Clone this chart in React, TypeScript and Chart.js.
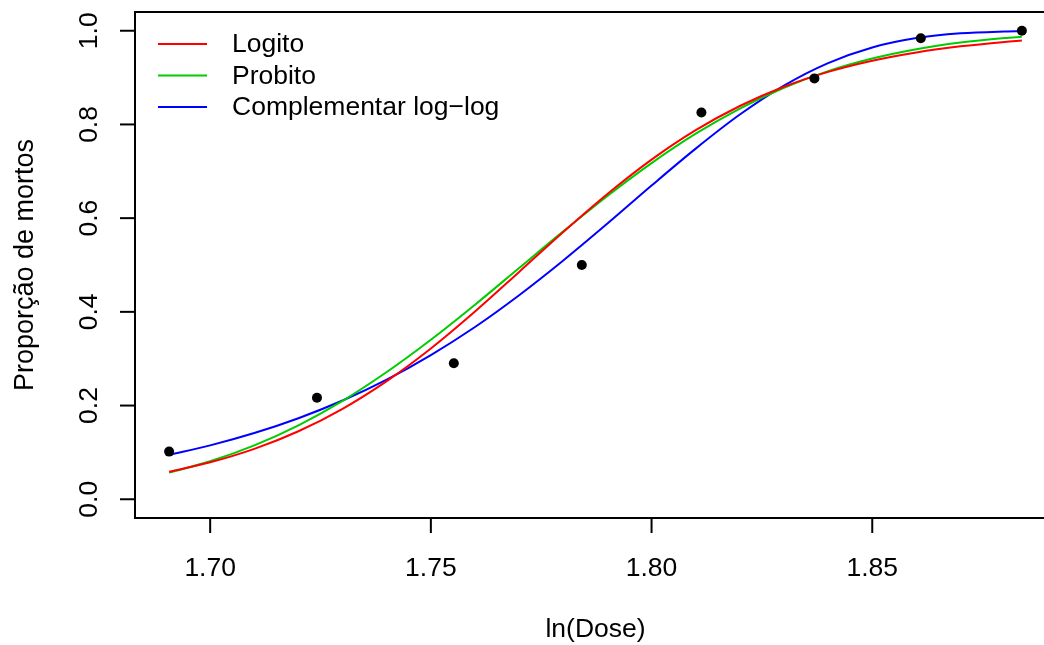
import React, { useEffect, useRef } from "react";
import { Chart, registerables } from "chart.js";

Chart.register(...registerables);

// Observed data
const lnDose = [1.6907, 1.7242, 1.7552, 1.7842, 1.8113, 1.8369, 1.861, 1.8839];
const propMortos = [0.1017, 0.2167, 0.2903, 0.5, 0.8254, 0.8983, 0.9839, 1.0];

// Fitted curves
const curveX = [1.6907, 1.7, 1.71, 1.72, 1.73, 1.74, 1.75, 1.76, 1.77, 1.78, 1.79, 1.8, 1.81, 1.82, 1.83, 1.84, 1.85, 1.86, 1.87, 1.88, 1.8839];
const logito = [0.0586, 0.0789, 0.1076, 0.1452, 0.1931, 0.2522, 0.3219, 0.4008, 0.4853, 0.5705, 0.6516, 0.7249, 0.7878, 0.8394, 0.8805, 0.9122, 0.936, 0.9537, 0.9667, 0.9761, 0.979];
const probito = [0.0569, 0.0812, 0.1151, 0.1579, 0.2101, 0.2716, 0.3405, 0.4153, 0.4936, 0.5718, 0.6473, 0.7174, 0.7802, 0.834, 0.8784, 0.9139, 0.9408, 0.9607, 0.9748, 0.9844, 0.9872];
const cloglog = [0.0948, 0.115, 0.1413, 0.173, 0.2108, 0.2554, 0.3078, 0.3677, 0.4355, 0.5096, 0.5884, 0.6696, 0.7484, 0.8211, 0.8829, 0.9309, 0.9643, 0.9843, 0.9944, 0.9984, 0.9991];

const xTicks = [1.7, 1.75, 1.8, 1.85];
const xTickLabels = ["1.70", "1.75", "1.80", "1.85"];
const yTicks = [0, 0.2, 0.4, 0.6, 0.8, 1.0];
const yTickLabels = ["0.0", "0.2", "0.4", "0.6", "0.8", "1.0"];

const legendLabels = ["Logito", "Probito", "Complementar log\u2212log"];
const legendColors = ["#FF0000", "#00CD00", "#0000FF"];

const FONT = '26.5px "Liberation Sans", Arial, Helvetica, sans-serif';

const toXY = (xs: number[], ys: number[]) => xs.map((x, i) => ({ x, y: ys[i] }));

const rPlot = {
  id: "rPlot",
  afterDraw(chart: any) {
    const { ctx, chartArea, scales } = chart;
    const xs = scales.x;
    const ys = scales.y;
    const { left, right, top, bottom } = chartArea;
    ctx.save();
    ctx.strokeStyle = "#000";
    ctx.fillStyle = "#000";
    ctx.lineWidth = 2;
    // box
    ctx.strokeRect(left, top, right - left, bottom - top);
    // x ticks
    ctx.font = FONT;
    ctx.textAlign = "center";
    ctx.textBaseline = "alphabetic";
    xTicks.forEach((v, i) => {
      const px = xs.getPixelForValue(v);
      ctx.beginPath();
      ctx.moveTo(px, bottom);
      ctx.lineTo(px, bottom + 15);
      ctx.stroke();
      ctx.fillText(xTickLabels[i], px, 576);
    });
    // y ticks
    yTicks.forEach((v, i) => {
      const py = ys.getPixelForValue(v);
      ctx.beginPath();
      ctx.moveTo(left, py);
      ctx.lineTo(left - 15, py);
      ctx.stroke();
      ctx.save();
      ctx.translate(97, py);
      ctx.rotate(-Math.PI / 2);
      ctx.fillText(yTickLabels[i], 0, 0);
      ctx.restore();
    });
    // titles
    ctx.fillText("ln(Dose)", (left + right) / 2, 637);
    ctx.save();
    ctx.translate(33, (top + bottom) / 2);
    ctx.rotate(-Math.PI / 2);
    ctx.font = '27px "Liberation Sans", Arial, Helvetica, sans-serif';
    ctx.fillText("Propor\u00e7\u00e3o de mortos", 0, 0);
    ctx.restore();
    // legend
    ctx.textAlign = "left";
    ctx.textBaseline = "middle";
    const ly = [44, 75.5, 107];
    legendLabels.forEach((lab, i) => {
      ctx.strokeStyle = legendColors[i];
      ctx.beginPath();
      ctx.moveTo(158, ly[i]);
      ctx.lineTo(207, ly[i]);
      ctx.stroke();
      ctx.fillStyle = "#000";
      ctx.fillText(lab, 232, ly[i] + 1);
    });
    ctx.restore();
  },
};

function App() {
  const ref = useRef<HTMLCanvasElement>(null);
  useEffect(() => {
    if (!ref.current) return;
    const lineDs = (label: string, ys: number[], color: string) => ({
      type: "line" as const,
      label,
      data: toXY(curveX, ys),
      borderColor: color,
      borderWidth: 2,
      pointRadius: 0,
      fill: false,
      cubicInterpolationMode: "monotone" as const,
      order: 2,
    });
    const chart = new Chart(ref.current, {
      type: "scatter",
      data: {
        datasets: [
          {
            type: "scatter",
            label: "Observado",
            data: toXY(lnDose, propMortos),
            backgroundColor: "#000",
            borderColor: "#000",
            pointRadius: 5,
            borderWidth: 0,
            order: 1,
          } as any,
          lineDs(legendLabels[0], logito, legendColors[0]),
          lineDs(legendLabels[1], probito, legendColors[1]),
          lineDs(legendLabels[2], cloglog, legendColors[2]),
        ],
      },
      options: {
        animation: false,
        responsive: false,
        layout: { padding: { left: 135, top: 12, right: 14, bottom: 127 } },
        plugins: { legend: { display: false }, tooltip: { enabled: false } },
        scales: {
          x: { type: "linear", display: false, min: 1.68297, max: 1.89163 },
          y: { type: "linear", display: false, min: -0.04, max: 1.04 },
        },
      },
      plugins: [rPlot],
    });
    return () => chart.destroy();
  }, []);
  return (
    <div style={{ position: "fixed", left: 0, top: 0, width: 1044, height: 645, overflow: "hidden", background: "#fff" }}>
      <canvas ref={ref} width={1070} height={645} style={{ width: 1070, height: 645, display: "block" }} />
    </div>
  );
}

export default App;
